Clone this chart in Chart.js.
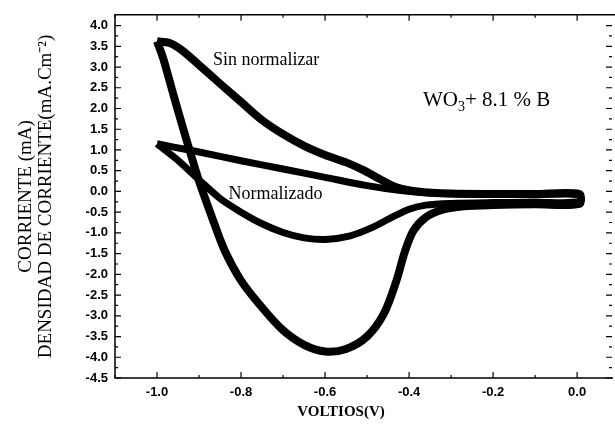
<!DOCTYPE html>
<html>
<head>
<meta charset="utf-8">
<script src="https://cdn.jsdelivr.net/npm/chart.js@4.4.0/dist/chart.umd.min.js"></script>
<style>
  html, body { margin: 0; padding: 0; background: #fff; }
</style>
</head>
<body>
<canvas id="cv" width="615" height="426"></canvas>
<script>
// voltammogram loops, traced from -1.0 V along the upper branch, back along the lower one
const sinNormX = [-1.0, -0.97, -0.94, -0.9, -0.85, -0.8, -0.75, -0.7, -0.65, -0.6, -0.55, -0.51, -0.47, -0.43, -0.38, -0.3, -0.2, -0.1, 0.005,
  0.005, -0.1, -0.2, -0.27, -0.32, -0.36, -0.39, -0.41, -0.43, -0.46, -0.5, -0.55, -0.6, -0.65, -0.7, -0.75, -0.8, -0.84, -0.87, -0.9, -0.93, -0.96, -0.985, -1.0];
const sinNormY = [3.62, 3.58, 3.4, 3.05, 2.6, 2.16, 1.72, 1.38, 1.1, 0.88, 0.7, 0.52, 0.3, 0.1, 0.0, -0.05, -0.06, -0.06, -0.06,
  -0.3, -0.31, -0.33, -0.36, -0.44, -0.62, -0.95, -1.45, -2.15, -2.95, -3.5, -3.8, -3.86, -3.7, -3.35, -2.8, -2.15, -1.4, -0.6, 0.25, 1.25, 2.3, 3.2, 3.62];

const normX = [-1.0, -0.96, -0.9, -0.8, -0.7, -0.6, -0.5, -0.42, -0.35, -0.25, -0.1, 0.005,
  0.005, -0.1, -0.2, -0.3, -0.36, -0.4, -0.44, -0.49, -0.54, -0.6, -0.65, -0.7, -0.75, -0.8, -0.85, -0.9, -0.95, -0.99, -1.0];
const normY = [1.15, 1.07, 0.95, 0.74, 0.54, 0.34, 0.14, 0.02, -0.04, -0.07, -0.08, -0.08,
  -0.25, -0.26, -0.27, -0.29, -0.33, -0.43, -0.62, -0.88, -1.07, -1.16, -1.12, -0.99, -0.78, -0.5, -0.17, 0.28, 0.75, 1.07, 1.15];

const xTickValues = [-1.0, -0.8, -0.6, -0.4, -0.2, 0.0];
const yTickValues = [4.0, 3.5, 3.0, 2.5, 2.0, 1.5, 1.0, 0.5, 0.0, -0.5, -1.0, -1.5, -2.0, -2.5, -3.0, -3.5, -4.0, -4.5];
const seriesNames = ['Sin normalizar', 'Normalizado'];

const serif = "'Liberation Serif', 'Times New Roman', serif";
const sans = "'Liberation Sans', Arial, sans-serif";

const toPoints = (xs, ys) => xs.map((x, i) => ({ x, y: ys[i] }));

// axis frame with inward ticks, x title, and the in-plot labels
const frame = {
  id: 'frame',
  afterDraw(chart) {
    const { ctx, chartArea: a, scales: { x, y } } = chart;
    ctx.save();
    ctx.strokeStyle = '#000';
    ctx.lineWidth = 1.5;
    ctx.beginPath();
    ctx.moveTo(a.right + 3, a.top);
    ctx.lineTo(a.left, a.top);
    ctx.lineTo(a.left, a.bottom);
    ctx.lineTo(a.right + 1, a.bottom);
    ctx.stroke();

    ctx.lineWidth = 1.2;
    ctx.beginPath();
    for (let i = -11; i <= 0; i++) {
      const px = x.getPixelForValue(i / 10);
      const len = i % 2 === 0 ? 6 : 3;
      ctx.moveTo(px, a.bottom); ctx.lineTo(px, a.bottom - len);
      ctx.moveTo(px, a.top); ctx.lineTo(px, a.top + len);
    }
    for (let i = -18; i <= 16; i++) {
      const py = y.getPixelForValue(i / 4);
      const len = i % 2 === 0 ? 6 : 3;
      ctx.moveTo(a.left, py); ctx.lineTo(a.left + len, py);
      ctx.moveTo(a.right, py); ctx.lineTo(a.right - len, py);
    }
    ctx.stroke();

    ctx.fillStyle = '#000';
    ctx.textBaseline = 'alphabetic';
    ctx.font = `bold 15px ${serif}`;
    ctx.textAlign = 'center';
    ctx.fillText('VOLTIOS(V)', x.getPixelForValue(-0.562), 416);
    ctx.textAlign = 'left';

    ctx.font = `18px ${serif}`;
    ctx.fillText(seriesNames[0], x.getPixelForValue(-0.867), y.getPixelForValue(3.04));
    ctx.fillText(seriesNames[1], x.getPixelForValue(-0.83), y.getPixelForValue(-0.18));

    const px0 = x.getPixelForValue(-0.367);
    const py0 = y.getPixelForValue(2.05);
    ctx.font = `21px ${serif}`;
    ctx.fillText('WO', px0, py0);
    let w = ctx.measureText('WO').width;
    ctx.font = `14px ${serif}`;
    ctx.fillText('3', px0 + w, py0 + 5);
    w += ctx.measureText('3').width;
    ctx.font = `21px ${serif}`;
    ctx.fillText('+ 8.1 % B', px0 + w, py0);
    ctx.restore();
  }
};

const lineStyle = { showLine: true, borderColor: '#000', pointRadius: 0, tension: 0.3, borderJoinStyle: 'round', borderCapStyle: 'butt', fill: false };

new Chart(document.getElementById('cv'), {
  type: 'scatter',
  data: {
    datasets: [
      { ...lineStyle, label: seriesNames[0], data: toPoints(sinNormX, sinNormY), borderWidth: 8 },
      { ...lineStyle, label: seriesNames[1], data: toPoints(normX, normY), borderWidth: 7 },
    ],
  },
  options: {
    responsive: false,
    animation: false,
    layout: { padding: { top: 12, right: 3, left: 0, bottom: 0 } },
    plugins: { legend: { display: false }, tooltip: { enabled: false } },
    scales: {
      x: {
        type: 'linear', min: -1.1, max: 0.083,
        grid: { display: false, drawTicks: false },
        border: { display: false },
        afterBuildTicks: (s) => { s.ticks = xTickValues.map((v) => ({ value: v })); },
        afterFit: (s) => { s.height = 48; },
        ticks: { padding: 7, color: '#000', autoSkip: false, maxRotation: 0, font: { family: sans, size: 13, weight: 'bold' }, callback: (v) => Number(v).toFixed(1) },
      },
      y: {
        type: 'linear', min: -4.5, max: 4.26,
        grid: { display: false, drawTicks: false },
        border: { display: false },
        afterBuildTicks: (s) => { s.ticks = yTickValues.map((v) => ({ value: v })); },
        afterFit: (s) => { s.width = 115; },
        ticks: { padding: 7, color: '#000', autoSkip: false, font: { family: sans, size: 13, weight: 'bold' }, callback: (v) => Number(v).toFixed(1) },
        title: { display: true, text: ['CORRIENTE (mA)', 'DENSIDAD DE CORRIENTE(mA.Cm⁻²)'], color: '#000', font: { family: serif, size: 19, lineHeight: 1.05 }, padding: { top: 16, bottom: 0 } },
      },
    },
  },
  plugins: [frame],
});
</script>
</body>
</html>
